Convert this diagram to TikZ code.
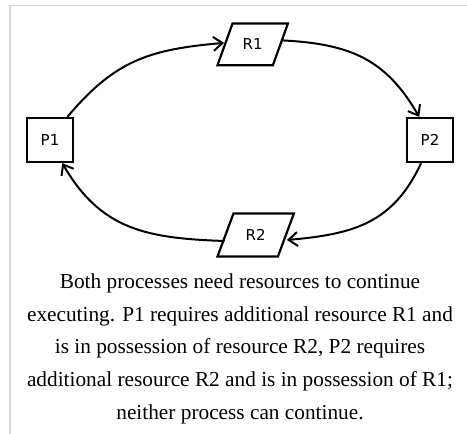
\documentclass[tikz,border=0pt]{standalone}
\usepackage{fontspec}
\setmainfont{Liberation Serif}
\newfontfamily\boxfont{DejaVu Sans}
\usetikzlibrary{arrows.meta}
\definecolor{framegray}{RGB}{214,214,214}

\begin{document}
\begin{tikzpicture}[x=1pt,y=1pt,
  proc/.style={draw, line width=2.2pt, minimum width=46.3pt, minimum height=44pt,
    inner sep=0pt, font=\boxfont\fontsize{15}{18}\selectfont},
  res/.style={inner sep=0pt, font=\boxfont\fontsize{15}{18}\selectfont},
  slantbox/.style={line width=2.2pt, line join=miter},
  link/.style={line width=2pt, -{Straight Barb[length=9pt,width=14pt]}},
  capline/.style={anchor=base, inner sep=0pt, font=\fontsize{21.3}{26}\selectfont}]
\useasboundingbox (0,0) rectangle (467,434);

% frame of the figure box
\draw[framegray, line width=1.5pt] (10,0) -- (10,428.5) -- (467,428.5);

% processes
\node[proc] (P1) at (50,294) {P1};
\node[proc] (P2) at (430,294) {P2};

% resources (parallelograms)
\node[res, minimum width=55pt, minimum height=41.3pt] (R1) at (252.7,389.6) {R1};
\node[res, minimum width=60pt, minimum height=42.6pt] (R2) at (255.7,199) {R2};
\draw[slantbox] ([xshift=7.5pt]R1.north west) -- ([xshift=7.5pt]R1.north east)
  -- ([xshift=-7.5pt]R1.south east) -- ([xshift=-7.5pt]R1.south west) -- cycle;
\draw[slantbox] ([xshift=8pt]R2.north west) -- ([xshift=8pt]R2.north east)
  -- ([xshift=-8pt]R2.south east) -- ([xshift=-8pt]R2.south west) -- cycle;

% request / assignment edges
\draw[link] (P1.53) to[out=50, in=185, looseness=1.1] ([xshift=-1pt,yshift=1.5pt]R1.west);
\draw[link] ([xshift=2pt,yshift=4pt]R1.east) to[out=-3, in=120, looseness=1.1] (P2.115);
\draw[link] (P2.-111) to[out=245, in=5, looseness=1.1] ([xshift=1pt,yshift=-5pt]R2.east);
\draw[link] ([xshift=-1pt,yshift=-6pt]R2.west) to[out=178, in=-60, looseness=1.1] (P1.-62);

% caption
\node[capline] (c1) at (240,145.3) {Both processes need resources to continue};
\node[capline] (c2) at (240,112.7) {executing. P1 requires additional resource R1 and};
\node[capline] (c3) at (240,80.1) {is in possession of resource R2, P2 requires};
\node[capline] (c4) at (240,47.5) {additional resource R2 and is in possession of R1;};
\node[capline] (c5) at (240,14.9) {neither process can continue.};
\end{tikzpicture}
\end{document}
